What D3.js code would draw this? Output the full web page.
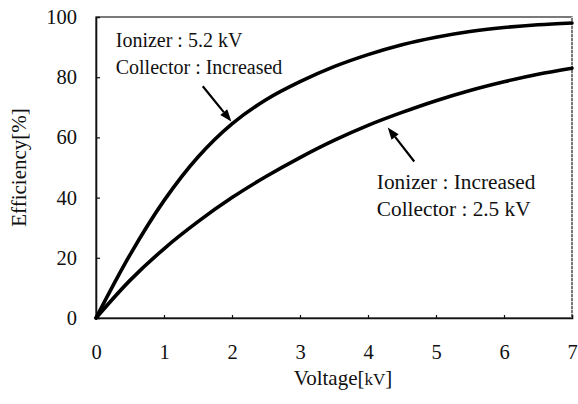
<!DOCTYPE html>
<html>
<head>
<meta charset="utf-8">
<script src="https://cdn.jsdelivr.net/npm/d3@7/dist/d3.min.js"></script>
<style>
  html, body { margin: 0; padding: 0; background: #fff; }
  svg { display: block; }
  svg text { font-family: "Liberation Serif", "Times New Roman", Times, "DejaVu Serif", serif !important; fill: #111; }
</style>
</head>
<body>
<svg id="chart" width="578" height="404"></svg>
<script>
// ---- data ----
const voltage = [0, 0.5, 1, 1.5, 2, 2.5, 3, 3.5, 4, 4.5, 5, 5.5, 6, 6.5, 7];
const effIonizer52 = [0, 21, 39, 53.5, 64.5, 72.5, 78.5, 83.5, 87.5, 90.8, 93.3, 95.2, 96.5, 97.4, 98];
const effCollector25 = [0, 12.5, 23, 32, 40, 47, 53.3, 59, 64, 68.3, 72.2, 75.6, 78.5, 81, 83];
const xTicks = [0, 1, 2, 3, 4, 5, 6, 7];
const yTicks = [0, 20, 40, 60, 80, 100];
const seriesLabels = [
  ["Ionizer : 5.2 kV", "Collector : Increased"],
  ["Ionizer : Increased", "Collector : 2.5 kV"]
];

// ---- layout ----
const FONT = '"Liberation Serif", "Times New Roman", Times, "DejaVu Serif", serif';
const svg = d3.select("#chart");
const L = 96, R = 572, T = 17, B = 318;
const x = d3.scaleLinear().domain([0, 7]).range([L, R]);
const y = d3.scaleLinear().domain([0, 100]).range([B, T]);

// frame
svg.append("rect").attr("x", L).attr("y", T).attr("width", R - L).attr("height", B - T)
  .attr("fill", "none").attr("stroke", "#222").attr("stroke-width", 1.2);
svg.append("line").attr("x1", R).attr("x2", R).attr("y1", T).attr("y2", B)
  .attr("stroke", "#fff").attr("stroke-width", 1.4).attr("stroke-dasharray", "1,3");

// y axis
const yAxis = d3.axisLeft(y).tickValues(yTicks).tickSize(-4).tickPadding(19).tickFormat(d3.format("d"));
const gy = svg.append("g").attr("transform", `translate(${L},0)`).call(yAxis).attr("font-family", FONT);
gy.select(".domain").attr("stroke", "#111").attr("stroke-width", 1.6);
gy.selectAll(".tick line").attr("stroke", "#111").attr("stroke-width", 1.2)
  .filter(d => d === 0 || d === 100).remove();
gy.selectAll(".tick text").attr("font-size", 20.5).attr("fill", "#111");

// x axis
const xAxis = d3.axisBottom(x).tickValues(xTicks).tickSize(-3).tickPadding(26).tickFormat(d3.format("d"));
const gx = svg.append("g").attr("transform", `translate(0,${B})`).call(xAxis).attr("font-family", FONT);
gx.select(".domain").attr("stroke", "#111").attr("stroke-width", 1.6);
gx.selectAll(".tick line").attr("stroke", "#111").attr("stroke-width", 1.2)
  .filter(d => d === 0 || d === 7).remove();
gx.selectAll(".tick text").attr("font-size", 20.5).attr("fill", "#111");

// axis titles
svg.append("text").attr("transform", `translate(26,${(T + B) / 2}) rotate(-90)`)
  .attr("text-anchor", "middle").attr("font-size", 21).attr("font-family", FONT).text("Efficiency[%]");
const xt = svg.append("text").attr("x", 343).attr("y", 385)
  .attr("text-anchor", "middle").attr("font-size", 21).attr("font-family", FONT);
xt.append("tspan").text("Voltage[");
xt.append("tspan").attr("font-size", 17).text("kV");
xt.append("tspan").text("]");

// curves
const line = d3.line().x(d => x(d[0])).y(d => y(d[1])).curve(d3.curveCatmullRom.alpha(0.5));
[effIonizer52, effCollector25].forEach(vals => {
  svg.append("path").datum(voltage.map((v, i) => [v, vals[i]]))
    .attr("d", line).attr("fill", "none").attr("stroke", "#000")
    .attr("stroke-width", 3.6).attr("stroke-linejoin", "round").attr("stroke-linecap", "round");
});

// annotations
function arrow(x0, y0, x1, y1) {
  const px0 = x(x0), py0 = y(y0), px1 = x(x1), py1 = y(y1);
  const ang = Math.atan2(py1 - py0, px1 - px0);
  const len = 12, wid = 4.5;
  const bx = px1 - len * Math.cos(ang), by = py1 - len * Math.sin(ang);
  svg.append("line").attr("x1", px0).attr("y1", py0).attr("x2", bx).attr("y2", by)
    .attr("stroke", "#000").attr("stroke-width", 2.2);
  const nx = -Math.sin(ang), ny = Math.cos(ang);
  svg.append("path")
    .attr("d", `M${px1},${py1}L${bx + nx * wid},${by + ny * wid}L${bx - nx * wid},${by - ny * wid}Z`)
    .attr("fill", "#000");
}
function label(lines, vx, vy, size) {
  lines.forEach((t, i) => {
    svg.append("text").attr("x", x(vx)).attr("y", y(vy) + i * 27)
      .attr("font-size", size).attr("font-family", FONT).text(t);
  });
}
label(seriesLabels[0], 0.29, 90, 20);
label(seriesLabels[1], 4.13, 42.8, 21.3);
arrow(1.57, 77, 1.99, 65.3);
arrow(4.68, 52, 4.29, 63.3);
</script>
</body>
</html>
